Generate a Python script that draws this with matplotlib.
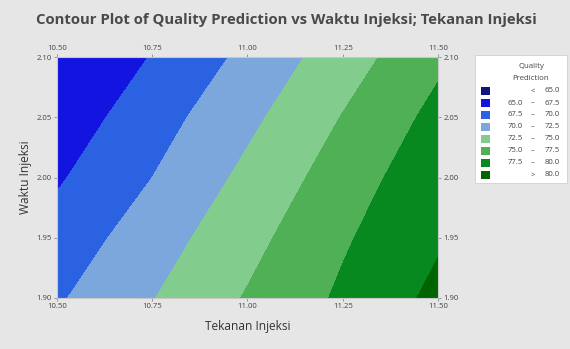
import matplotlib
matplotlib.use("Agg")
import matplotlib.pyplot as plt
from matplotlib.patches import Rectangle
import numpy as np

plt.rcParams['font.family'] = ['Open Sans', 'DejaVu Sans']

# Fitted response surface, sampled on the design grid
tekanan = [10.50, 10.75, 11.00, 11.25, 11.50]
waktu = [1.90, 1.95, 2.00, 2.05, 2.10]
quality = [
    [69.7, 72.4, 75.2, 77.9, 80.6],   # waktu 1.90
    [68.5, 71.3, 74.2, 77.2, 79.7],   # waktu 1.95
    [67.2, 70.0, 73.1, 76.2, 79.2],   # waktu 2.00
    [66.0, 68.9, 71.9, 75.1, 78.2],   # waktu 2.05
    [65.2, 67.6, 70.6, 73.8, 77.0],   # waktu 2.10
]

levels = [50.0, 65.0, 67.5, 70.0, 72.5, 75.0, 77.5, 80.0, 95.0]
band_colors = ['#14147e', '#1414e0', '#2a62e2', '#7ba7dc',
               '#82cd8e', '#4fb055', '#07891f', '#006400']
legend_rows = [('', '<', '65.0'), ('65.0', '\u2013', '67.5'), ('67.5', '\u2013', '70.0'),
               ('70.0', '\u2013', '72.5'), ('72.5', '\u2013', '75.0'), ('75.0', '\u2013', '77.5'),
               ('77.5', '\u2013', '80.0'), ('', '>', '80.0')]

xticks = [10.50, 10.75, 11.00, 11.25, 11.50]
yticks = [1.90, 1.95, 2.00, 2.05, 2.10]

W, H = 570, 349
fig = plt.figure(figsize=(W / 100, H / 100), dpi=100, facecolor='#e6e6e6')
ax = fig.add_axes([57 / W, 1 - 298 / H, (438 - 57) / W, (298 - 57) / H])

X, Y = np.meshgrid(tekanan, waktu)
ax.contourf(X, Y, np.array(quality), levels=levels, colors=band_colors)
ax.set_xlim(10.5, 11.5)
ax.set_ylim(1.9, 2.1)

tick_col = '#444444'
small = 5.6
ax.set_xticks(xticks)
ax.set_xticklabels([f'{v:.2f}' for v in xticks])
ax.set_yticks(yticks)
ax.set_yticklabels([f'{v:.2f}' for v in yticks])
ax.tick_params(axis='both', which='both', direction='out', length=2.5, width=0.6,
               colors='#888888', labelcolor=tick_col, labelsize=small, pad=1.2,
               top=True, right=True, labeltop=True, labelright=True)
for s in ax.spines.values():
    s.set_color('#c8c8c8')
    s.set_linewidth(0.8)

ax.set_xlabel('Tekanan Injeksi', fontsize=8.6, color='#333333', labelpad=7)
ax.set_ylabel('Waktu Injeksi', fontsize=8.6, color='#333333', labelpad=3)

fig.text(0.502, 1 - 20 / H, 'Contour Plot of Quality Prediction vs Waktu Injeksi; Tekanan Injeksi',
         ha='center', va='center', fontsize=10.7, fontweight='bold', color='#4a4a4a')

# Legend panel
fig.patches.append(Rectangle((475 / W, 1 - 183 / H), (567 - 475) / W, (183 - 55) / H,
                             transform=fig.transFigure, facecolor='white',
                             edgecolor='#d0d0d0', linewidth=0.6))
fig.text(531 / W, 1 - 66 / H, 'Quality', ha='center', va='center', fontsize=small, color=tick_col)
fig.text(531 / W, 1 - 78 / H, 'Prediction', ha='center', va='center', fontsize=small, color=tick_col)
for i, (lo, sep, hi) in enumerate(legend_rows):
    yc = 91 + i * 12.0
    fig.patches.append(Rectangle((481 / W, 1 - (yc + 4) / H), 9 / W, 8 / H,
                                 transform=fig.transFigure, facecolor=band_colors[i],
                                 edgecolor='none'))
    yf = 1 - yc / H
    if lo:
        fig.text(523 / W, yf, lo, ha='right', va='center', fontsize=small, color=tick_col)
    fig.text(533 / W, yf, sep, ha='center', va='center', fontsize=small, color=tick_col)
    fig.text(560 / W, yf, hi, ha='right', va='center', fontsize=small, color=tick_col)

fig.savefig('out.png', dpi=100, facecolor=fig.get_facecolor())
